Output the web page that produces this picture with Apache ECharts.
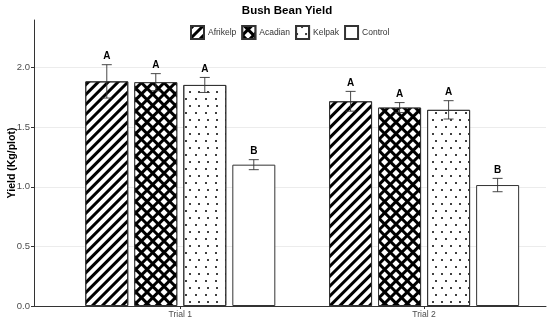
<!DOCTYPE html>
<html>
<head>
<meta charset="utf-8">
<script src="https://cdn.jsdelivr.net/npm/echarts@6/dist/echarts.min.js"></script>
<style>
html,body{margin:0;padding:0;background:#fff;}
#chart{width:550px;height:322px;}
</style>
</head>
<body>
<div id="chart"></div>
<script>
// ---- data ----
const categories = ['Trial 1', 'Trial 2'];
const treatments = ['Afrikelp', 'Acadian', 'Kelpak', 'Control'];
const yieldAfrikelp = [1.885, 1.718];
const yieldAcadian  = [1.878, 1.665];
const yieldKelpak   = [1.855, 1.646];
const yieldControl  = [1.186, 1.015];
const errAfrikelp = [0.14, 0.083];
const errAcadian  = [0.072, 0.042];
const errKelpak   = [0.063, 0.077];
const errControl  = [0.042, 0.056];
const lettersAfrikelp = ['A', 'A'];
const lettersAcadian  = ['A', 'A'];
const lettersKelpak   = ['A', 'A'];
const lettersControl  = ['B', 'B'];
const yTicks = [0, 0.5, 1.0, 1.5, 2.0];

const yields = [yieldAfrikelp, yieldAcadian, yieldKelpak, yieldControl];
const errs = [errAfrikelp, errAcadian, errKelpak, errControl];
const letters = [lettersAfrikelp, lettersAcadian, lettersKelpak, lettersControl];

const BAR_W = 43, BAR_GAP = 6;
const FONT = '"Liberation Sans", Arial, Helvetica, sans-serif';

const decals = [
  { symbol: 'rect', symbolSize: 1, color: '#000', dashArrayX: [1, 0], dashArrayY: [2.1, 3.7], rotation: -Math.PI / 4 },
  { symbol: 'rect', symbolSize: 1, color: '#fff', backgroundColor: '#000', dashArrayX: [4.1, 2.3], dashArrayY: [4.1, 2.3], rotation: Math.PI / 4 },
  { symbol: 'circle', symbolSize: 1, color: '#000', dashArrayX: [[2, 7], [0, 4.5, 2, 2.5]], dashArrayY: [2, 4.5], rotation: 0 },
  null
];

const series = treatments.map((name, k) => ({
  name: name,
  type: 'bar',
  barWidth: BAR_W,
  barGap: (BAR_GAP / BAR_W * 100).toFixed(1) + '%',
  itemStyle: Object.assign({ color: '#fff', borderColor: '#333', borderWidth: 1 }, decals[k] ? { decal: decals[k] } : {}),
  data: yields[k].map((v, i) => [i, v]),
  z: 2
}));

const errData = [];
treatments.forEach((name, k) => {
  categories.forEach((c, i) => {
    errData.push([i, yields[k][i], errs[k][i], k, letters[k][i]]);
  });
});

series.push({
  type: 'custom',
  name: 'err',
  z: 5,
  data: errData,
  encode: { x: 0, y: 1 },
  renderItem: function (params, api) {
    const xi = api.value(0), m = api.value(1), e = api.value(2), k = api.value(3);
    const letter = errData[params.dataIndex][4];
    const off = (k - 1.5) * (BAR_W + BAR_GAP);
    const top = api.coord([xi, m + e]);
    const bot = api.coord([xi, m - e]);
    const x = top[0] + off;
    const cap = 5;
    const style = { stroke: '#333', lineWidth: 0.9 };
    return {
      type: 'group',
      children: [
        { type: 'line', shape: { x1: x, y1: top[1], x2: x, y2: bot[1] }, style: style },
        { type: 'line', shape: { x1: x - cap, y1: top[1], x2: x + cap, y2: top[1] }, style: style },
        { type: 'line', shape: { x1: x - cap, y1: bot[1], x2: x + cap, y2: bot[1] }, style: style },
        { type: 'text', style: { text: letter, x: x, y: top[1] - 3, align: 'center', verticalAlign: 'bottom',
          font: 'bold 10px ' + FONT, fill: '#000' } }
      ]
    };
  }
});

const chart = echarts.init(document.getElementById('chart'), null, { renderer: 'canvas' });
chart.setOption({
  animation: false,
  backgroundColor: '#fff',
  title: {
    text: 'Bush Bean Yield', left: 282, top: 0, textAlign: 'center',
    textStyle: { fontFamily: FONT, fontWeight: 'bold', fontSize: 11.5, color: '#000' }
  },
  legend: {
    data: treatments, top: 20, left: 185,
    itemWidth: 13, itemHeight: 13, itemGap: 5, icon: 'rect',
    textStyle: { fontFamily: FONT, fontSize: 8.5, color: '#333', padding: [0, 0, 0, -1] }
  },
  grid: { left: 34, right: 4, top: 20, bottom: 16, containLabel: false, outerBoundsMode: 'none' },
  xAxis: {
    type: 'value', min: -0.6, max: 1.5,
    splitLine: { show: false },
    axisLine: { show: true, onZero: false, lineStyle: { color: '#333', width: 1 } },
    axisTick: { show: true, customValues: [0, 1], length: 3, lineStyle: { color: '#333' } },
    axisLabel: {
      customValues: [0, 1], margin: 4,
      formatter: v => categories[Math.round(v)] || '',
      fontFamily: FONT, fontSize: 8.6, color: '#4d4d4d'
    }
  },
  yAxis: {
    type: 'value', min: 0, max: 2.4, interval: 0.5,
    name: 'Yield (Kg/plot)', nameLocation: 'middle', nameGap: 16, nameMoveOverlap: false,
    nameTextStyle: { fontFamily: FONT, fontWeight: 'bold', fontSize: 10.5, color: '#000' },
    axisLine: { show: true, onZero: false, lineStyle: { color: '#333', width: 1 } },
    axisTick: { show: true, length: 3, lineStyle: { color: '#333' } },
    axisLabel: {
      margin: 4, showMaxLabel: false,
      formatter: v => yTicks.some(t => Math.abs(t - v) < 1e-6) ? v.toFixed(1) : '',
      fontFamily: FONT, fontSize: 9.5, color: '#4d4d4d'
    },
    splitLine: { show: true, showMaxLine: false, lineStyle: { color: '#ececec', width: 1 } }
  },
  series: series
});
</script>
</body>
</html>
